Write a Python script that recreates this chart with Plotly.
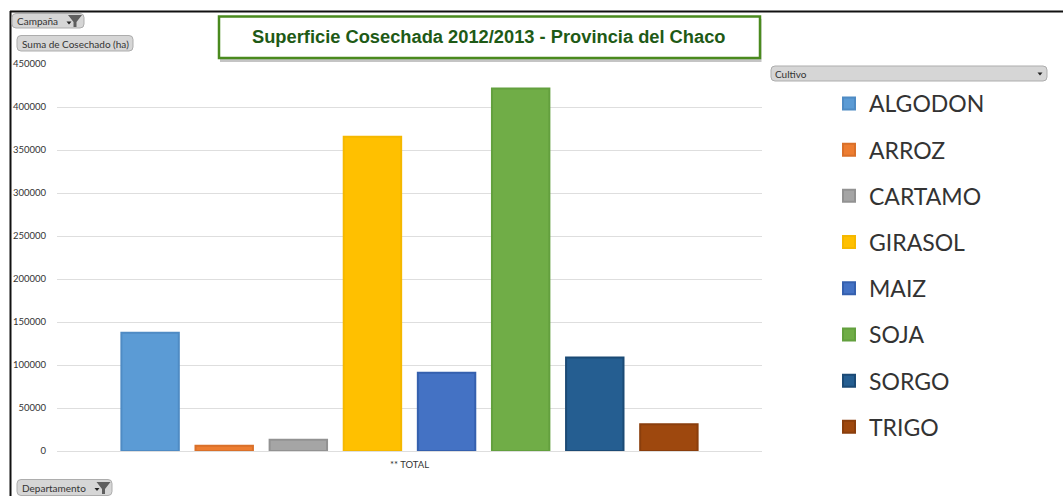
import plotly.graph_objects as go

WIDTH, HEIGHT = 1063, 496
PLOT_LEFT, PLOT_RIGHT, PLOT_TOP, PLOT_BOTTOM = 57, 762, 64, 451

cultivos = ["ALGODON", "ARROZ", "CARTAMO", "GIRASOL", "MAIZ", "SOJA", "SORGO", "TRIGO"]
cosechado_ha = [137500, 6000, 13000, 365500, 91000, 421500, 108800, 31000]
colores = ["#5b9bd5", "#ed7d31", "#a5a5a5", "#ffc000", "#4472c4", "#70ad47", "#255e91", "#9e480e"]
bordes = ["#4f8bc4", "#d9702a", "#929292", "#f5b800", "#3560ae", "#63a03e", "#1b4a75", "#8a3e0c"]
categoria = ["** TOTAL"]
ticks_y = [0, 50000, 100000, 150000, 200000, 250000, 300000, 350000, 400000, 450000]


def px(x):
    return (x - PLOT_LEFT) / (PLOT_RIGHT - PLOT_LEFT)


def py(y):
    return (PLOT_BOTTOM - y) / (PLOT_BOTTOM - PLOT_TOP)


def rounded(x0, y0, x1, y1, r):
    return (
        f"M{px(x0 + r)},{py(y0)} L{px(x1 - r)},{py(y0)} Q{px(x1)},{py(y0)} {px(x1)},{py(y0 + r)} "
        f"L{px(x1)},{py(y1 - r)} Q{px(x1)},{py(y1)} {px(x1 - r)},{py(y1)} "
        f"L{px(x0 + r)},{py(y1)} Q{px(x0)},{py(y1)} {px(x0)},{py(y1 - r)} "
        f"L{px(x0)},{py(y0 + r)} Q{px(x0)},{py(y0)} {px(x0 + r)},{py(y0)} Z"
    )


def panel_shape(x0, y0, x1, y1):
    return dict(
        type="path", xref="paper", yref="paper", path=rounded(x0, y0, x1, y1, 4),
        fillcolor="#d6d6d6", line=dict(color="#adadad", width=1),
    )


def funnel(cx, cy):
    path = (
        f"M{px(cx - 7)},{py(cy - 6)} L{px(cx + 7)},{py(cy - 6)} L{px(cx + 1.5)},{py(cy + 1)} "
        f"L{px(cx + 1.5)},{py(cy + 6)} L{px(cx - 1.5)},{py(cy + 6)} L{px(cx - 1.5)},{py(cy + 1)} Z"
    )
    return dict(type="path", xref="paper", yref="paper", path=path, fillcolor="#5f5f5f", line=dict(width=0))


def small_arrow(cx, cy):
    path = f"M{px(cx - 2.5)},{py(cy - 1.5)} L{px(cx + 2.5)},{py(cy - 1.5)} L{px(cx)},{py(cy + 1.5)} Z"
    return dict(type="path", xref="paper", yref="paper", path=path, fillcolor="#222222", line=dict(width=0))


def rect(x0, y0, x1, y1, **kw):
    return dict(type="rect", xref="paper", yref="paper", x0=px(x0), x1=px(x1), y0=py(y1), y1=py(y0), **kw)


def label(text, x, y, size=10, color="#333333", family="Lato", anchor="left", weight=None):
    font = dict(size=size, color=color, family=family)
    if weight:
        font["weight"] = weight
    return dict(
        text=text, xref="paper", yref="paper", x=px(x), y=py(y), xanchor=anchor, yanchor="middle",
        showarrow=False, font=font, borderpad=0,
    )


fig = go.Figure()
for nombre, valor, color, borde in zip(cultivos, cosechado_ha, colores, bordes):
    fig.add_bar(
        name=nombre, x=categoria, y=[valor], legendgroup=nombre,
        marker=dict(color=color, line=dict(color=borde, width=2)),
    )

shapes = [
    # frame around the pivot chart
    dict(type="line", xref="paper", yref="paper", x0=px(10), x1=px(1063), y0=py(11.5), y1=py(11.5),
         line=dict(color="#111111", width=2)),
    dict(type="line", xref="paper", yref="paper", x0=px(10.5), x1=px(10.5), y0=py(11), y1=py(496),
         line=dict(color="#111111", width=2)),
    # title box with its drop shadow
    rect(220, 19, 761.5, 62, fillcolor="#c4c4c4", line=dict(width=0)),
    rect(219, 16.5, 760, 58, fillcolor="#ffffff", line=dict(color="#4a8a1e", width=2.5)),
    # pivot field buttons
    panel_shape(12, 13.5, 84, 28),
    panel_shape(17, 35.5, 133, 51),
    panel_shape(17, 479.5, 112, 495.5),
    panel_shape(771, 66, 1047, 81),
    funnel(75, 21),
    funnel(103.5, 488),
    small_arrow(69, 23),
    small_arrow(97, 489.5),
    small_arrow(1040, 74),
]

annotations = [
    label("Superficie Cosechada 2012/2013 - Provincia del Chaco", 488.5, 36, size=18.3,
          color="#1e5a16", family="Liberation Sans", anchor="center", weight="bold"),
    label("Campaña", 16, 20.5),
    label("Suma de Cosechado (ha)", 21, 43.5),
    label("Departamento", 21, 488),
    label("Cultivo", 774, 74),
]

fig.update_layout(
    width=WIDTH, height=HEIGHT,
    margin=dict(l=PLOT_LEFT, r=WIDTH - PLOT_RIGHT, t=PLOT_TOP, b=HEIGHT - PLOT_BOTTOM),
    paper_bgcolor="#ffffff", plot_bgcolor="#ffffff",
    barmode="group", bargap=0.159, bargroupgap=0.225,
    showlegend=True,
    legend=dict(
        x=(829 - PLOT_LEFT) / (PLOT_RIGHT - PLOT_LEFT), y=py(82), xanchor="left", yanchor="top",
        font=dict(size=23, color="#333333", family="Lato"),
        tracegroupgap=13.3, bgcolor="rgba(0,0,0,0)", borderwidth=0,
        traceorder="grouped",
    ),
    xaxis=dict(showgrid=False, showline=False, ticks="", ticklabelstandoff=6,
               tickfont=dict(size=9.5, color="#333333", family="Lato")),
    yaxis=dict(
        range=[0, 450000], tickvals=ticks_y, tickformat="d",
        showgrid=True, gridcolor="#dedede", gridwidth=1.2,
        zeroline=True, zerolinecolor="#dedede", zerolinewidth=1.2,
        showline=False, ticks="", ticklen=0, ticklabelstandoff=10,
        tickfont=dict(size=9.5, color="#333333", family="Lato"),
    ),
    shapes=shapes, annotations=annotations,
)

fig.write_html("out.html")
